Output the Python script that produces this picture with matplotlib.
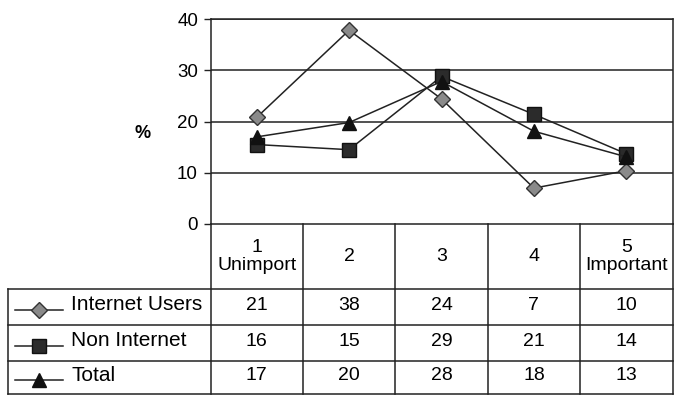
import matplotlib
matplotlib.use("Agg")
import matplotlib.pyplot as plt
from matplotlib.lines import Line2D

plt.rcParams['font.family'] = ['Liberation Sans', 'DejaVu Sans']

# ---- data ----
categories = ["1\nUnimport", "2", "3", "4", "5\nImportant"]
series_names = ["Internet Users", "Non Internet", "Total"]
internet_users = [20.8, 37.8, 24.4, 7.0, 10.4]
non_internet = [15.5, 14.5, 28.8, 21.4, 13.7]
total = [17.0, 19.8, 27.8, 18.1, 13.1]
table_internet = ["21", "38", "24", "7", "10"]
table_non = ["16", "15", "29", "21", "14"]
table_total = ["17", "20", "28", "18", "13"]
yticks = [0, 10, 20, 30, 40]

W, H = 674, 395
fig = plt.figure(figsize=(W / 100, H / 100), dpi=100)
fig.patch.set_facecolor("white")

# plot area in pixels
px_left, px_right, px_top, px_bot = 210.5, 672.5, 19, 224
ax = fig.add_axes([px_left / W, 1 - px_bot / H, (px_right - px_left) / W, (px_bot - px_top) / H])
x = list(range(len(categories)))
ax.set_xlim(-0.5, len(categories) - 0.5)
ax.set_ylim(0, 40)
ax.set_yticks(yticks)
ax.set_yticklabels([str(v) for v in yticks], fontsize=13.5)
ax.set_xticks([])
for v in yticks[1:]:
    ax.axhline(v, color="#222222", lw=1.1, zorder=1)
for s in ax.spines.values():
    s.set_color("#222222")
    s.set_linewidth(1.1)
ax.tick_params(axis="y", length=5, width=1, color="#222222", pad=4)
ax.set_ylabel("%", rotation=0, fontsize=13, fontweight="bold", va="center", ha="center")
ax.yaxis.set_label_coords(-0.146, 0.44)

styles = [
    dict(marker="D", markersize=8, markerfacecolor="#8a8a8a", markeredgecolor="#333333"),
    dict(marker="s", markersize=10, markerfacecolor="#2b2b2b", markeredgecolor="#111111"),
    dict(marker="^", markersize=10, markerfacecolor="#111111", markeredgecolor="#111111"),
]
data = [internet_users, non_internet, total]
for vals, st in zip(data, styles):
    ax.plot(x, vals, color="#222222", lw=1.1, zorder=3, clip_on=False, **st)

# ---- data table (overlay axes in pixel coordinates) ----
tax = fig.add_axes([0, 0, 1, 1])
tax.set_xlim(0, W)
tax.set_ylim(H, 0)
tax.axis("off")

band = (px_right - px_left) / len(categories)
col_edges = [px_left + i * band for i in range(len(categories) + 1)]
row_edges = [px_bot, 289, 325, 361, 394]
tbl_left = 7.5
lc = "#222222"
lw = 1.1

for xe in col_edges:
    tax.plot([xe, xe], [row_edges[0], row_edges[-1]], color=lc, lw=lw)
tax.plot([tbl_left, tbl_left], [row_edges[1], row_edges[-1]], color=lc, lw=lw)
for ye in row_edges[1:]:
    tax.plot([tbl_left, px_right], [ye, ye], color=lc, lw=lw)

for i, cat in enumerate(categories):
    cx = (col_edges[i] + col_edges[i + 1]) / 2
    cy = (row_edges[0] + row_edges[1]) / 2
    tax.text(cx, cy, cat, ha="center", va="center", fontsize=14, linespacing=1.15)

table_rows = [table_internet, table_non, table_total]
for r, (name, vals, st) in enumerate(zip(series_names, table_rows, styles)):
    mid = (row_edges[r + 1] + row_edges[r + 2]) / 2
    cy = mid - 2
    tax.add_line(Line2D([15, 63], [mid + 2.5, mid + 2.5], color="#222222", lw=1.1))
    tax.add_line(Line2D([39], [mid + 2.5], lw=0, **st))
    tax.text(71, cy, name, ha="left", va="center", fontsize=15)
    for i, v in enumerate(vals):
        cx = (col_edges[i] + col_edges[i + 1]) / 2
        tax.text(cx, cy, v, ha="center", va="center", fontsize=14)

fig.savefig("out.png", dpi=100)
